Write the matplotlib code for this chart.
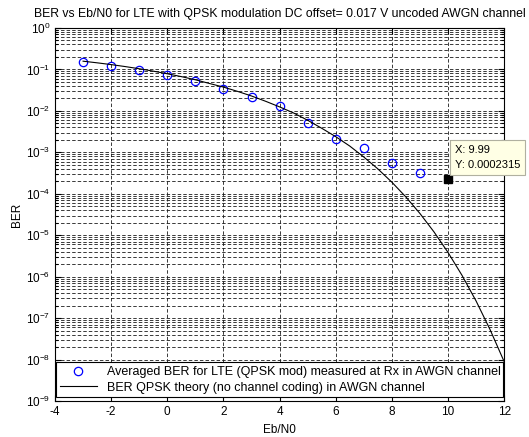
import matplotlib
matplotlib.use("Agg")
import matplotlib.pyplot as plt
from matplotlib.ticker import LogLocator, NullFormatter

plt.rcParams['font.family'] = ['Liberation Sans', 'DejaVu Sans']
plt.rcParams['lines.scale_dashes'] = False
plt.rcParams['axes.unicode_minus'] = False

# measured BER (averaged over runs) per Eb/N0 in dB
ebn0_meas = [-3, -2, -1, 0, 1, 2, 3, 4, 5, 6, 7, 8, 9]
ber_meas = [0.153, 0.122, 0.0957, 0.0753, 0.0519, 0.0346, 0.0221,
            0.0131, 0.0052, 0.00214, 0.00128, 0.00056, 0.00032]

# theoretical QPSK curve, sampled every 0.5 dB
ebn0_theory = [-3, -2.5, -2, -1.5, -1, -0.5, 0, 0.5, 1, 1.5, 2, 2.5, 3, 3.5,
               4, 4.5, 5, 5.5, 6, 6.5, 7, 7.5, 8, 8.5, 9, 9.5, 10, 10.5,
               11, 11.5, 12]
ber_theory = [0.158, 0.1444, 0.1308, 0.1172, 0.1039, 0.0909, 0.0786, 0.0671,
              0.0563, 0.0459, 0.0375, 0.0296, 0.0229, 0.0171, 0.0125, 0.0089,
              0.00595, 0.00382, 0.00239, 0.00142, 7.73e-4, 4.0e-4, 1.91e-4,
              8.4e-5, 3.36e-5, 1.21e-5, 3.87e-6, 1.08e-6, 2.61e-7, 5.3e-8,
              9.0e-9]

# data cursor
tip_x = 9.99
tip_y = 0.0002315

fig = plt.figure(figsize=(5.29, 4.37), dpi=100)
ax = fig.add_axes([0.104, 0.082, 0.849, 0.854])

ax.semilogy(ebn0_meas, ber_meas, 'o', color='blue', mfc='none', ms=6, mew=0.9,
            label='Averaged BER for LTE (QPSK mod) measured at Rx in AWGN channel')
ax.semilogy(ebn0_theory, ber_theory, '-', color='black', lw=0.8,
            label='BER QPSK theory (no channel coding) in AWGN channel')

ax.set_xlim(-4, 12)
ax.set_ylim(1e-9, 1)
ax.set_xticks(range(-4, 13, 2))
ax.yaxis.set_major_locator(LogLocator(base=10, numticks=12))
ax.yaxis.set_minor_locator(LogLocator(base=10, subs=range(2, 10), numticks=12))
ax.yaxis.set_minor_formatter(NullFormatter())

grid_kw = dict(color='0.1', lw=0.6, dashes=(2.5, 1.5))
ax.grid(True, which='major', axis='both', **grid_kw)
ax.grid(True, which='minor', axis='y', **grid_kw)
ax.set_axisbelow(True)

ax.tick_params(which='both', direction='in', top=True, right=True,
               labelsize=8.5, width=0.8)
ax.tick_params(which='major', length=4)
ax.tick_params(which='minor', length=2)
for s in ax.spines.values():
    s.set_linewidth(0.8)

ax.set_title('BER vs Eb/N0 for LTE with QPSK modulation DC offset= 0.017 V uncoded AWGN channel',
             fontsize=8.8, pad=8)
ax.set_xlabel('Eb/N0', fontsize=8.5, labelpad=4)
ax.set_ylabel('BER', fontsize=8.5, labelpad=2)

# data tip marker and label
ax.plot([tip_x], [tip_y], 's', color='black', ms=6, zorder=5)
ax.annotate(f'X: {tip_x}\nY: {tip_y}', xy=(tip_x, tip_y), xytext=(5, 6),
            textcoords='offset points', fontsize=8, va='bottom', ha='left',
            linespacing=1.7,
            bbox=dict(boxstyle='square,pad=0.45', fc='#ffffe5', ec='#b0b0a0', lw=0.8),
            zorder=6)

leg = ax.legend(loc='lower left', bbox_to_anchor=(0.002, 0.01, 0.996, 0.1),
                mode='expand', borderaxespad=0, fontsize=9, handlelength=3,
                fancybox=False, framealpha=1, edgecolor='black',
                borderpad=0.3, labelspacing=0.3)
leg.get_frame().set_linewidth(0.8)

fig.savefig('out.png', dpi=100)
